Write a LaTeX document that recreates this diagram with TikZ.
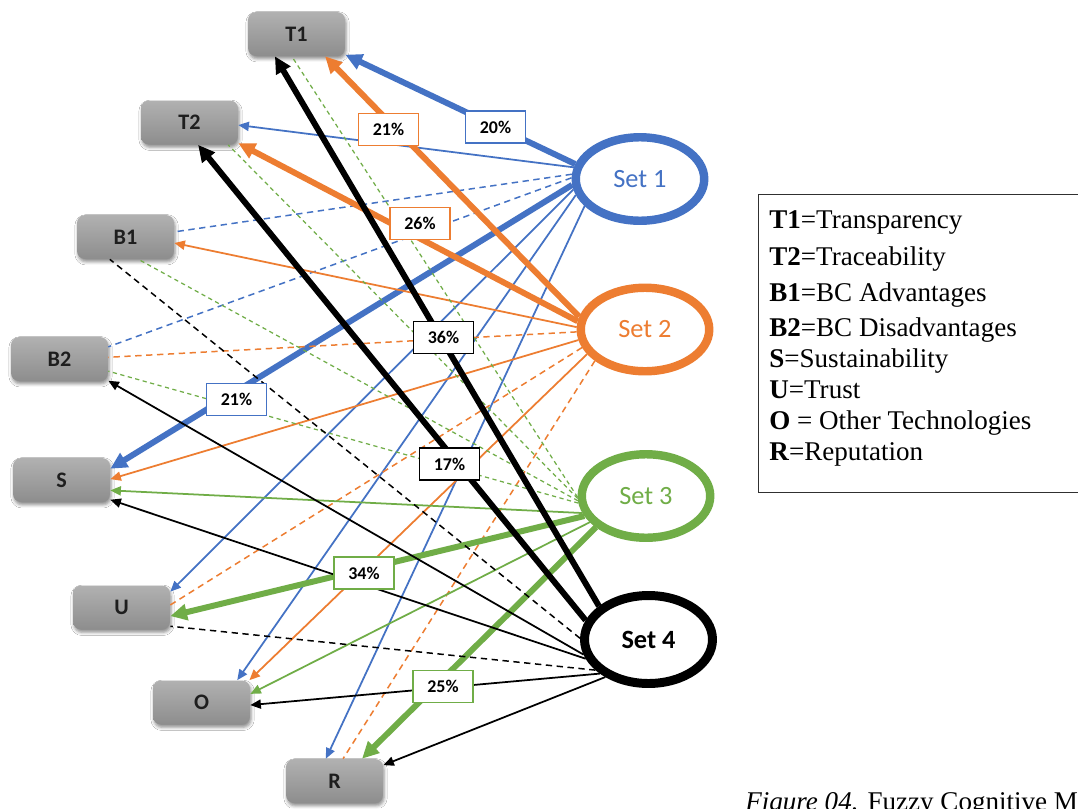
\documentclass[tikz,border=0pt]{standalone}
\usepackage{fontspec}
\setmainfont{Liberation Serif}
\newfontfamily\calibri{Carlito}
\usetikzlibrary{arrows.meta,shapes.geometric,shadows.blur}

\definecolor{setBlue}{HTML}{4472C4}
\definecolor{setOrange}{HTML}{ED7D31}
\definecolor{setGreen}{HTML}{70AD47}
\definecolor{boxTop}{HTML}{B1B1B1}
\definecolor{boxBot}{HTML}{8D8D8D}
\definecolor{boxText}{HTML}{1E1E1E}
\definecolor{frameGray}{HTML}{303030}

\begin{document}
\begin{tikzpicture}[x=0.02cm, y=-0.02cm,
  factor/.style={rectangle, rounded corners=0.16cm, minimum width=1.94cm,
    minimum height=0.88cm, inner sep=0pt, top color=boxTop, bottom color=boxBot,
    draw=none, blur shadow={shadow xshift=0.6pt, shadow yshift=-1.6pt,
    shadow blur radius=1.8pt, shadow opacity=45}, text=boxText,
    font=\calibri\bfseries\fontsize{12.6}{14}\selectfont},
  setnode/.style={ellipse, draw=#1, line width=4.8pt, fill=white,
    minimum width=2.57cm, minimum height=1.67cm, inner sep=0pt, text=#1,
    font=\calibri\fontsize{15}{17}\selectfont},
  pct/.style={rectangle, draw=#1, fill=white, line width=0.85pt,
    minimum width=1.2cm, minimum height=0.64cm, inner sep=0pt, text=black,
    font=\calibri\bfseries\fontsize{10.2}{12}\selectfont},
  thinarrow/.style={line width=1pt, -{Triangle[length=6pt,width=5.2pt]}},
  thickarrow/.style={line width=3.4pt, -{Triangle[length=9.5pt,width=9pt]}},
  dashedlink/.style={line width=0.85pt, dash pattern=on 3.6pt off 2.6pt},
  finedashed/.style={line width=0.7pt, dash pattern=on 2.4pt off 2pt},
  legendline/.style={anchor=base west, inner sep=0pt,
    font=\fontsize{15.4}{18}\selectfont},
  legendframe/.style={draw=frameGray, line width=0.6pt, inner sep=0pt}
]
\useasboundingbox (0,0) rectangle (1078,808);
\clip (0,0) rectangle (1078,808);
\fill[white] (0,0) rectangle (1078,808);

% concept boxes
\node[factor] (t1) at (296.5,34) {T1};
\node[factor] (t2) at (189.5,122.5) {T2};
\node[factor] (b1) at (125.5,237) {B1};
\node[factor] (b2) at (59.5,359) {B2};
\node[factor] (s)  at (61.5,480) {S};
\node[factor] (u)  at (121.5,607.5) {U};
\node[factor] (o)  at (201.5,702.5) {O};
\node[factor] (r)  at (334.5,781) {R};

% expert sets
\node[setnode=setBlue]   (s1) at (640,179)   {Set 1};
\node[setnode=setOrange] (s2) at (645,329.5) {Set 2};
\node[setnode=setGreen]  (s3) at (646,496)   {Set 3};
\node[setnode=black, line width=5.1pt, minimum width=2.56cm, minimum height=1.76cm,
  font=\calibri\bfseries\fontsize{15}{17}\selectfont] (s4) at (648.5,639.5) {Set 4};

% Set 1 links
\draw[thickarrow, setBlue] (s1.167) -- (t1.-23);
\draw[thinarrow, setBlue] (s1.170) -- (t2.-3);
\draw[dashedlink, setBlue] (s1.176) -- (b1.6);
\draw[dashedlink, setBlue] (s1.179) -- (b2.14);
\draw[thickarrow, setBlue] (s1.185) -- (s.13);
\draw[thinarrow, setBlue] (s1.189) -- (u.18);
\draw[thinarrow, setBlue] (s1.194) -- (o.32);
\draw[thinarrow, setBlue] (s1.206) -- (r.111);

% Set 2 links
\draw[thickarrow, setOrange] (s2.169) -- (t1.-38);
\draw[thickarrow, setOrange] (s2.173) -- (t2.-23);
\draw[thinarrow, setOrange] (s2.178) -- (b1.-7);
\draw[dashedlink, setOrange] (s2.182) -- (b2.2);
\draw[thinarrow, setOrange] (s2.189) -- (s.1);
\draw[dashedlink, setOrange] (s2.196) -- (u.3);
\draw[thinarrow, setOrange] (s2.203) -- (o.25);
\draw[dashedlink, setOrange] (s2.212) -- (r.69);

% Set 3 links
\draw[finedashed, setGreen] (s3.181) -- (t1.258);
\draw[finedashed, setGreen] (s3.182.5) -- (t2.-30);
\draw[finedashed, setGreen] (s3.184) -- (b1.-60);
\draw[finedashed, setGreen] (s3.186) -- (b2.-14);
\draw[thinarrow, setGreen] (s3.195) -- (s.-12);
\draw[thickarrow, setGreen] (s3.198) -- (u.-10);
\draw[thinarrow, setGreen] (s3.205) -- (o.10);
\draw[thickarrow, setGreen] (s3.212) -- (r.39);

% Set 4 links
\draw[thickarrow] (s4.146) -- (t1.226);
\draw[thickarrow] (s4.163) -- (t2.-69);
\draw[dashedlink] (s4.179) -- (b1.235);
\draw[thinarrow] (s4.193) -- (b2.-24);
\draw[thinarrow] (s4.197) -- (s.-22);
\draw[dashedlink] (s4.210) -- (u.-21);
\draw[thinarrow] (s4.215) -- (o.-3);
\draw[thinarrow] (s4.221) -- (r.18);

% weights
\node[pct=setBlue]   (w20)  at (495.5,127)   {20\%};
\node[pct=setOrange] (w21a) at (388.5,129.5) {21\%};
\node[pct=setOrange] (w26)  at (420,223.5)   {26\%};
\node[pct=black]     (w36)  at (443.5,337.5) {36\%};
\node[pct=black]     (w17)  at (449.5,464)   {17\%};
\node[pct=setBlue]   (w21b) at (236.5,399.5) {21\%};
\node[pct=setGreen]  (w34)  at (364,573)     {34\%};
\node[pct=setGreen]  (w25)  at (443,686.5)   {25\%};

% legend
\node[legendframe, anchor=north west, minimum width=6.6cm, minimum height=5.96cm]
  (legend) at (758,194) {};
\node[legendline] (l1) at (769,228) {\textbf{T1}=Transparency};
\node[legendline] (l2) at (769,265) {\textbf{T2}=Traceability};
\node[legendline] (l3) at (769,301) {\textbf{B1}=BC Advantages};
\node[legendline] (l4) at (769,336) {\textbf{B2}=BC Disadvantages};
\node[legendline] (l5) at (769,367) {\textbf{S}=Sustainability};
\node[legendline] (l6) at (769,398) {\textbf{U}=Trust};
\node[legendline] (l7) at (769,429) {\textbf{O} = Other Technologies};
\node[legendline] (l8) at (769,460) {\textbf{R}=Reputation};

% caption
\node[legendline] (caption) at (745,810.5) {\textit{Figure 04.} Fuzzy Cognitive Map};
\end{tikzpicture}
\end{document}
